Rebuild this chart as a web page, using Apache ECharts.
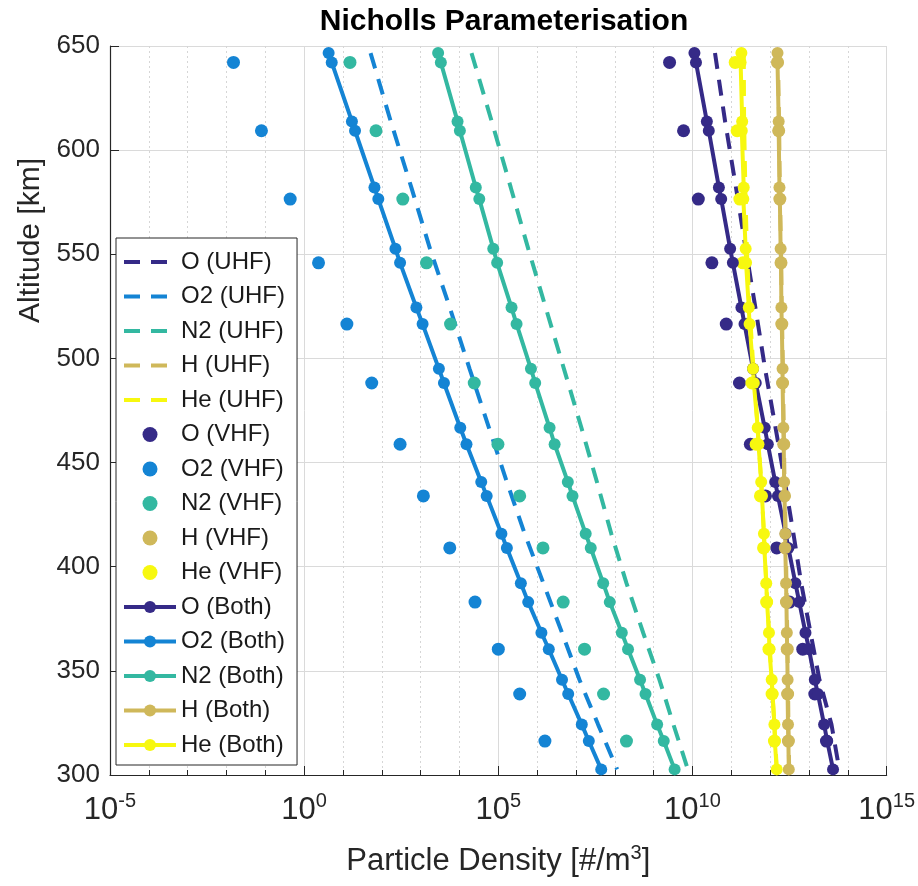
<!DOCTYPE html>
<html>
<head>
<meta charset="utf-8">
<title>Nicholls Parameterisation</title>
<script src="https://cdn.jsdelivr.net/npm/echarts@6/dist/echarts.min.js"></script>
<style>
  html, body { margin: 0; padding: 0; background: #ffffff; }
  #chart { width: 918px; height: 886px; }
</style>
</head>
<body>
<div id="chart"></div>
<script>
// Range-gate altitudes in km
const altUHF = [646.6, 613.8, 582.1, 552.7, 524.4, 495.0, 466.7, 440.7, 415.8, 392.1, 368.3, 345.7, 324.2, 302.7];
const altVHF = [642.1, 609.3, 576.5, 545.9, 516.5, 488.2, 458.8, 434.0, 409.0, 383.0, 360.4, 338.9, 316.3];
const altBoth = [646.6, 642.1, 613.8, 609.3, 582.1, 576.5, 552.7, 545.9, 524.4, 516.5, 495.0, 488.2, 466.7, 458.8,
                 440.7, 434.0, 415.8, 409.0, 392.1, 383.0, 368.3, 360.4, 345.7, 338.9, 324.2, 316.3, 302.7];

// Particle densities, stored as log10 of #/m^3
const oUHF  = [10.58, 10.84, 11.12, 11.37, 11.62, 11.87, 12.14, 12.38, 12.60, 12.80, 13.04, 13.27, 13.58, 13.78];
const o2UHF = [1.71, 2.23, 2.76, 3.24, 3.75, 4.26, 4.76, 5.22, 5.68, 6.16, 6.64, 7.09, 7.57, 8.06];
const n2UHF = [4.31, 4.83, 5.32, 5.77, 6.22, 6.69, 7.14, 7.54, 7.91, 8.30, 8.73, 9.15, 9.51, 9.88];
const hUHF  = [12.20, 12.23, 12.25, 12.28, 12.30, 12.33, 12.35, 12.37, 12.40, 12.42, 12.44, 12.46, 12.47, 12.49];
const heUHF = [11.32, 11.33, 11.36, 11.40, 11.47, 11.57, 11.68, 11.77, 11.84, 11.90, 11.97, 12.04, 12.11, 12.17];

const oVHF  = [9.41, 9.77, 10.15, 10.50, 10.87, 11.21, 11.49, 11.88, 12.17, 12.50, 12.84, 13.15, 13.45];
const o2VHF = [-1.82, -1.10, -0.36, 0.37, 1.10, 1.74, 2.47, 3.07, 3.75, 4.40, 5.00, 5.55, 6.20];
const n2VHF = [1.18, 1.85, 2.54, 3.15, 3.77, 4.38, 4.99, 5.55, 6.15, 6.67, 7.22, 7.71, 8.30];
const hVHF  = [12.19, 12.22, 12.25, 12.28, 12.30, 12.32, 12.35, 12.37, 12.39, 12.42, 12.44, 12.45, 12.47];
const heVHF = [11.10, 11.15, 11.22, 11.30, 11.42, 11.53, 11.64, 11.75, 11.83, 11.91, 11.97, 12.05, 12.11];

const oBoth  = [10.05, 10.09, 10.37, 10.42, 10.68, 10.74, 10.97, 11.04, 11.26, 11.34, 11.56, 11.63, 11.86, 11.94,
                12.13, 12.20, 12.40, 12.47, 12.65, 12.75, 12.91, 13.00, 13.15, 13.23, 13.39, 13.47, 13.62];
const o2Both = [0.63, 0.71, 1.23, 1.31, 1.81, 1.91, 2.35, 2.47, 2.89, 3.05, 3.47, 3.60, 4.02, 4.18,
                4.56, 4.70, 5.08, 5.22, 5.58, 5.77, 6.11, 6.30, 6.64, 6.80, 7.15, 7.33, 7.65];
const n2Both = [3.45, 3.52, 3.95, 4.01, 4.42, 4.51, 4.87, 4.97, 5.34, 5.47, 5.84, 5.95, 6.32, 6.45,
                6.79, 6.91, 7.25, 7.38, 7.70, 7.87, 8.18, 8.34, 8.65, 8.79, 9.09, 9.26, 9.54];
const hBoth  = [12.19, 12.19, 12.22, 12.22, 12.24, 12.25, 12.27, 12.28, 12.29, 12.30, 12.32, 12.32, 12.34, 12.35,
                12.36, 12.37, 12.39, 12.39, 12.41, 12.42, 12.43, 12.44, 12.45, 12.45, 12.46, 12.47, 12.48];
const heBoth = [11.26, 11.24, 11.28, 11.27, 11.32, 11.31, 11.37, 11.38, 11.45, 11.47, 11.56, 11.58, 11.68, 11.70,
                11.77, 11.79, 11.84, 11.85, 11.90, 11.92, 11.97, 11.98, 12.04, 12.06, 12.11, 12.12, 12.17];

const species = ['O', 'O2', 'N2', 'H', 'He'];
const xTickValues = [-5, 0, 5, 10, 15];
const xTickExponents = ['-5', '0', '5', '10', '15'];
const yTicks = [300, 350, 400, 450, 500, 550, 600, 650];

const colors = {
  'O':  '#352a87',
  'O2': '#1484d4',
  'N2': '#33b8a1',
  'H':  '#cfb85a',
  'He': '#f7f80f'
};

const FONT = '"Liberation Sans", Arial, Helvetica, sans-serif';
const TXT = '#262626';

function pairs(values, alts) {
  return values.map((v, i) => [v, alts[i]]);
}

const uhf  = { 'O': oUHF,  'O2': o2UHF,  'N2': n2UHF,  'H': hUHF,  'He': heUHF };
const vhf  = { 'O': oVHF,  'O2': o2VHF,  'N2': n2VHF,  'H': hVHF,  'He': heVHF };
const both = { 'O': oBoth, 'O2': o2Both, 'N2': n2Both, 'H': hBoth, 'He': heBoth };

const DASH = [16, 11];
const series = [];
species.forEach(s => series.push({
  name: s + ' (UHF)', type: 'line', data: pairs(uhf[s], altUHF),
  symbol: 'none', z: 2,
  lineStyle: { color: colors[s], width: 4, type: DASH },
  itemStyle: { color: colors[s] }
}));
species.forEach(s => series.push({
  name: s + ' (VHF)', type: 'scatter', data: pairs(vhf[s], altVHF),
  symbol: 'circle', symbolSize: 13, z: 3,
  itemStyle: { color: colors[s], opacity: 1 }
}));
species.forEach(s => series.push({
  name: s + ' (Both)', type: 'line', data: pairs(both[s], altBoth),
  symbol: 'circle', symbolSize: 12, showSymbol: true, z: 4,
  lineStyle: { color: colors[s], width: 4 },
  itemStyle: { color: colors[s], borderWidth: 0 }
}));

// Legend entries: dash-only samples for UHF, thick line with dot for the combined fits
const legendData = series.map(s => {
  if (s.name.indexOf('(UHF)') >= 0) {
    return { name: s.name, itemStyle: { opacity: 0 }, lineStyle: { width: 4 } };
  }
  if (s.name.indexOf('(Both)') >= 0) {
    return { name: s.name, lineStyle: { width: 4 } };
  }
  return { name: s.name };
});

const chart = echarts.init(document.getElementById('chart'), null, { renderer: 'canvas' });

chart.setOption({
  animation: false,
  backgroundColor: '#ffffff',
  title: {
    text: 'Nicholls Parameterisation',
    left: 499, top: 2, textAlign: 'center',
    textStyle: { fontFamily: FONT, fontSize: 30, fontWeight: 'bold', color: '#000000' }
  },
  grid: { left: 110, right: 30, top: 46, bottom: 111, containLabel: false },
  legend: {
    data: legendData,
    orient: 'vertical',
    left: 116, top: 238,
    itemWidth: 52, itemHeight: 15, itemGap: 10.5,
    padding: [12, 12, 8, 6],
    backgroundColor: '#ffffff',
    borderColor: TXT, borderWidth: 1, borderRadius: 0,
    textStyle: { fontFamily: FONT, fontSize: 24, lineHeight: 24, color: '#1a1a1a' }
  },
  xAxis: {
    type: 'value', min: -5, max: 15, interval: 5,
    name: '{n|Particle Density [#/m}{s|3}{n|]}',
    nameLocation: 'middle', nameGap: 68,
    nameTextStyle: {
      color: TXT,
      rich: {
        n: { fontFamily: FONT, fontSize: 31, lineHeight: 36, color: TXT },
        s: { fontFamily: FONT, fontSize: 20, lineHeight: 18, verticalAlign: 'top', color: TXT }
      }
    },
    axisLine: { show: true, onZero: false, lineStyle: { color: TXT, width: 1.2 } },
    axisTick: { show: true, inside: true, length: 9, lineStyle: { color: TXT } },
    minorTick: { show: true, splitNumber: 5, length: 5, lineStyle: { color: TXT } },
    splitLine: { show: true, lineStyle: { color: '#dadada', width: 1 } },
    minorSplitLine: { show: true, lineStyle: { color: '#d6d6d6', width: 1, type: [2, 3] } },
    axisLabel: {
      margin: 16,
      formatter: function (v) {
        return '{b|10}{s|' + xTickExponents[xTickValues.indexOf(v)] + '}';
      },
      rich: {
        b: { fontFamily: FONT, fontSize: 31, lineHeight: 38, color: TXT },
        s: { fontFamily: FONT, fontSize: 20, lineHeight: 18, verticalAlign: 'top', color: TXT }
      }
    }
  },
  yAxis: {
    type: 'value', min: 300, max: 650, interval: 50,
    name: 'Altitude [km]',
    nameLocation: 'middle', nameGap: 62, nameRotate: 90,
    nameTextStyle: { fontFamily: FONT, fontSize: 30, color: TXT, padding: [0, 0, 0, 340] },
    axisLine: { show: true, onZero: false, lineStyle: { color: TXT, width: 1.2 } },
    axisTick: { show: true, inside: true, length: 9, lineStyle: { color: TXT } },
    splitLine: { show: true, lineStyle: { color: '#dadada', width: 1 } },
    axisLabel: {
      margin: 10, fontFamily: FONT, fontSize: 26, color: TXT,
      formatter: v => String(yTicks[yTicks.indexOf(v)])
    }
  },
  series: series
});
</script>
</body>
</html>
